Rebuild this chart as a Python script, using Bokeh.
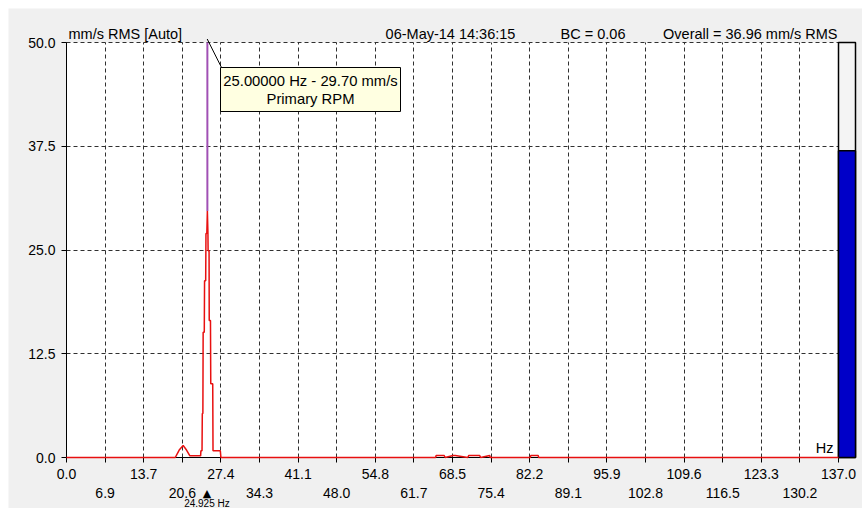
from bokeh.plotting import figure
from bokeh.models import Range1d, FixedTicker, LinearAxis, Label, ColumnDataSource, Grid
from bokeh.embed import file_html
from bokeh.resources import INLINE

# ---- data ----
freq_hz = [0.0, 19.3, 20.0, 20.7, 21.3, 21.9, 23.8, 23.85, 24.05, 24.1, 24.2, 24.25, 24.45, 24.5,
           24.7, 24.75, 24.9, 25.0, 25.1, 25.13, 25.3, 25.33, 25.55, 25.6, 25.95, 26.0, 27.3, 27.4,
           65.5, 65.6, 67.0, 67.2, 68.6, 69.0, 71.2, 71.4, 73.3, 73.5, 75.1, 75.2,
           82.3, 82.4, 83.7, 83.8, 137.0]
amp_mms = [0.0, 0.0, 0.9, 1.45, 0.9, 0.2, 0.2, 0.8, 0.8, 5.3, 5.3, 15.1, 15.1, 21.3,
           21.3, 27.0, 27.0, 29.7, 27.0, 24.9, 24.9, 16.5, 16.5, 8.9, 8.9, 0.8, 0.8, 0.0,
           0.0, 0.25, 0.25, 0.0, 0.25, 0.25, 0.0, 0.25, 0.25, 0.0, 0.25, 0.0,
           0.0, 0.25, 0.25, 0.0, 0.0]
x_tick_labels = ["0.0", "6.9", "13.7", "20.6", "27.4", "34.3", "41.1", "48.0", "54.8", "61.7",
                 "68.5", "75.4", "82.2", "89.1", "95.9", "102.8", "109.6", "116.5", "123.3",
                 "130.2", "137.0"]
x_max = 137.0
y_ticks = [0.0, 12.5, 25.0, 37.5, 50.0]
y_max = 50.0
overall_rms = 36.96
cursor_hz = 25.0
cursor_amp = 29.70
marker_hz = 24.925
header_left = "mm/s  RMS  [Auto]"
header_date = "06-May-14 14:36:15"
header_bc = "BC = 0.06"
header_overall = "Overall = 36.96 mm/s RMS"
cursor_line1 = "25.00000 Hz - 29.70 mm/s"
cursor_line2 = "Primary RPM"

# ---- layout (page pixels) ----
FONT = "Liberation Sans"
PAGE_W, PAGE_H, OFF = 862, 508, 8
PL, PR, PT, PB = 66, 838, 42, 457          # plot area edges on the page
BAR_R = 855
kx = (PR - PL) / x_max
ky = (PB - PT) / y_max
def dx(px):  # page x -> data
    return (px - PL) / kx
def dy(py):  # page y -> data
    return (PB - py) / ky

n = len(x_tick_labels)
x_ticks = [round(x_max * i / (n - 1), 3) for i in range(n)]
even_ticks = x_ticks[0::2]
odd_ticks = x_ticks[1::2]

p = figure(width=PAGE_W - OFF, height=PAGE_H - OFF, output_backend="svg", toolbar_location=None,
           x_range=Range1d(dx(OFF), dx(PAGE_W)), y_range=Range1d(dy(PAGE_H), dy(OFF)),
           min_border_left=0, min_border_right=0, min_border_top=0, min_border_bottom=0)
p.margin = (OFF, 0, 0, OFF)
p.background_fill_color = "#f0f0f0"
p.border_fill_color = "#f0f0f0"
p.outline_line_color = None

# white plot area
bg = p.quad(left=[0], right=[x_max], bottom=[0], top=[y_max], fill_color="white", line_color=None)
bg.level = "image"

# axes
xa = p.xaxis[0]
xa.fixed_location = 0
xa.bounds = (0, x_max)
xa.ticker = FixedTicker(ticks=even_ticks, minor_ticks=odd_ticks)
xa.major_label_overrides = {t: x_tick_labels[x_ticks.index(t)] for t in even_ticks}
xa.axis_line_color = "black"
xa.major_tick_out = 5
xa.major_tick_in = 0
xa.minor_tick_out = 5
xa.minor_tick_in = 0
xa.minor_tick_line_color = "black"
xa.major_label_standoff = 6
xa.major_label_text_font = FONT
xa.major_label_text_font_size = "14px"
xa.major_label_text_color = "black"

xa2 = LinearAxis(ticker=FixedTicker(ticks=odd_ticks, minor_ticks=[]))
xa2.fixed_location = 0
xa2.bounds = (0, x_max)
xa2.major_label_overrides = {t: x_tick_labels[x_ticks.index(t)] for t in odd_ticks}
xa2.axis_line_color = None
xa2.major_tick_line_color = None
xa2.minor_tick_line_color = None
xa2.major_tick_out = 0
xa2.major_tick_in = 0
xa2.minor_tick_out = 0
xa2.minor_tick_in = 0
xa2.major_label_standoff = 30
xa2.major_label_text_font = FONT
xa2.major_label_text_font_size = "14px"
xa2.major_label_text_color = "black"
p.add_layout(xa2, "below")

ya = p.yaxis[0]
ya.fixed_location = 0
ya.bounds = (0, y_max)
ya.ticker = FixedTicker(ticks=y_ticks, minor_ticks=[])
ya.major_label_overrides = {t: "%.1f" % t for t in y_ticks}
ya.axis_line_color = "black"
ya.major_tick_out = 5
ya.major_tick_in = 0
ya.major_label_standoff = 6
ya.major_label_text_font = FONT
ya.major_label_text_font_size = "14px"
ya.major_label_text_color = "black"

# grid
GRID_COLOR, GRID_DASH = "#303030", "4 3"
if "cross_bounds" in Grid.properties():
    p.xgrid.ticker = FixedTicker(ticks=x_ticks)
    p.ygrid.ticker = FixedTicker(ticks=y_ticks)
    p.xgrid.bounds = (-1, x_max + 1)
    p.ygrid.bounds = (-1, y_max + 1)
    p.xgrid.cross_bounds = (0, y_max)
    p.ygrid.cross_bounds = (0, x_max)
    for g in (p.xgrid[0], p.ygrid[0]):
        g.grid_line_color = GRID_COLOR
        g.grid_line_dash = GRID_DASH
        g.grid_line_width = 1
else:
    p.xgrid.visible = False
    p.ygrid.visible = False
    vx = x_ticks[1:-1]
    p.segment(x0=vx, x1=vx, y0=[0] * len(vx), y1=[y_max] * len(vx), line_color=GRID_COLOR,
              line_dash=GRID_DASH, line_width=1, level="underlay")
    hy = y_ticks[1:]
    p.segment(x0=[0] * len(hy), x1=[x_max] * len(hy), y0=hy, y1=hy, line_color=GRID_COLOR,
              line_dash=GRID_DASH, line_width=1, level="underlay")

# overall bar
p.quad(left=[x_max], right=[dx(BAR_R)], bottom=[0], top=[y_max], fill_color="#f4f4f4",
       line_color="black", line_width=1.5)
p.quad(left=[x_max], right=[dx(BAR_R)], bottom=[0], top=[overall_rms], fill_color="#0000c8",
       line_color="black", line_width=1.5)

# spectrum
src = ColumnDataSource(dict(f=freq_hz, a=amp_mms))
r = p.line("f", "a", source=src, line_color="#e81010", line_width=1.5)
r.level = "annotation"

# cursor
c = p.line([cursor_hz, cursor_hz], [y_max, cursor_amp], line_color="#a050b4", line_width=2)
c.level = "annotation"

# tooltip box
box_l, box_r, box_t, box_b = dx(220), dx(400), dy(67), dy(111)
lead = p.line([dx(206.7), dx(221)], [dy(38.5), box_t], line_color="black", line_width=1)
lead.level = "annotation"
bx = p.quad(left=[box_l], right=[box_r], top=[box_t], bottom=[box_b], fill_color="#ffffe1",
            line_color="black", line_width=1)
bx.level = "annotation"
cx = dx(310)
p.add_layout(Label(x=cx, y=dy(80), text=cursor_line1, text_align="center",
                   text_baseline="alphabetic", text_font=FONT, text_font_size="14.8px",
                   text_color="black"))
p.add_layout(Label(x=cx, y=dy(98), text=cursor_line2, text_align="center",
                   text_baseline="alphabetic", text_font=FONT, text_font_size="14.8px",
                   text_color="black"))

# header
hb = dy(33.5)
for txt, px, al in [(header_left, 68, "left"), (header_date, 450, "center"),
                    (header_bc, 592.5, "center"), (header_overall, 837, "right")]:
    p.add_layout(Label(x=dx(px), y=hb, text=txt, text_align=al, text_baseline="alphabetic",
                       text_font=FONT, text_font_size="14.5px", text_color="black"))

# Hz unit
p.add_layout(Label(x=dx(833), y=dy(447.5), text="Hz", text_align="right", text_baseline="alphabetic",
                   text_font=FONT, text_font_size="14.5px", text_color="black"))

# marker
p.add_layout(Label(x=marker_hz, y=dy(492.5), text="▲", text_align="center",
                   text_baseline="middle", text_font="DejaVu Sans", text_font_size="11px",
                   text_color="black"))
p.add_layout(Label(x=marker_hz, y=dy(508), text="%.3f Hz" % marker_hz, text_align="center",
                   text_baseline="bottom", text_font=FONT, text_font_size="10px",
                   text_color="black"))

open("out.html", "w").write(file_html(p, INLINE))
